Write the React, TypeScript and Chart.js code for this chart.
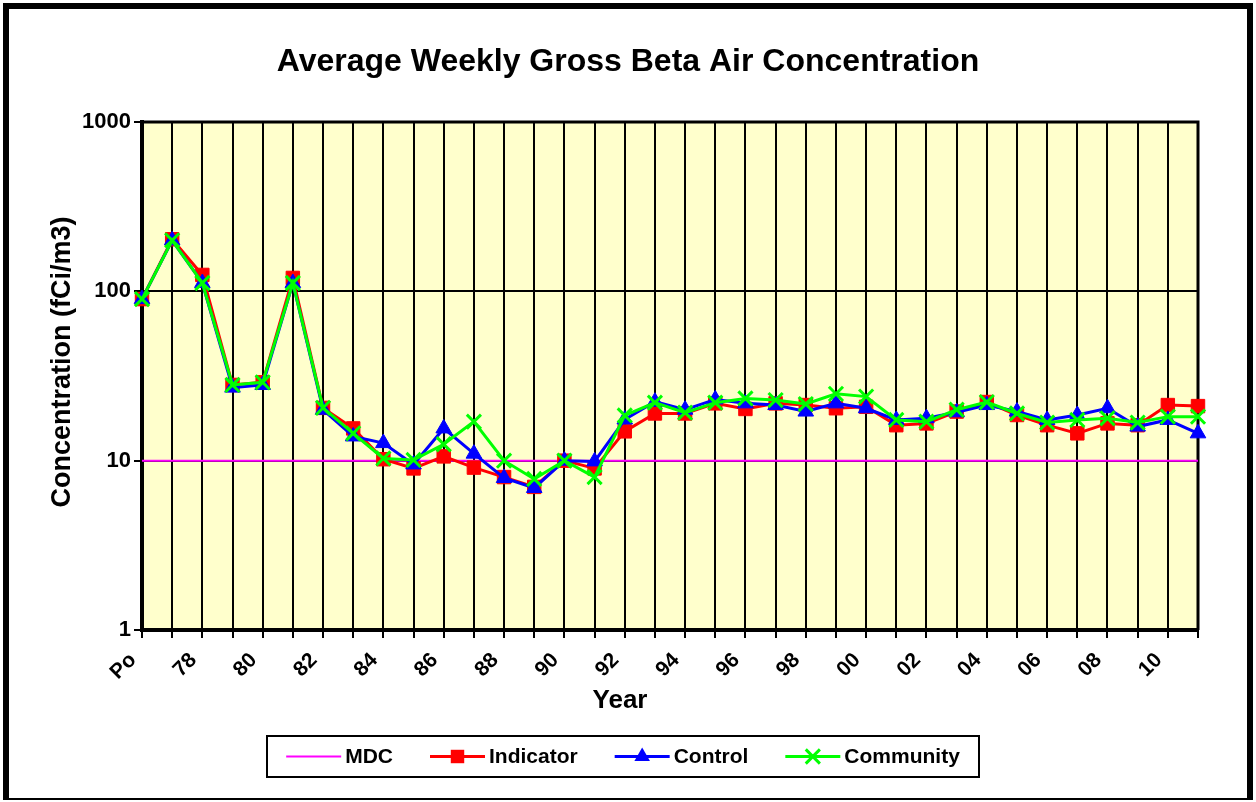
import React, { useEffect, useRef } from 'react';
import { Chart, registerables } from 'chart.js';

Chart.register(...registerables);

const FONT = '"Liberation Sans", Arial, Helvetica, sans-serif';

const years = [
  'Po', '77', '78', '79', '80', '81', '82', '83', '84', '85', '86', '87',
  '88', '89', '90', '91', '92', '93', '94', '95', '96', '97', '98', '99',
  '00', '01', '02', '03', '04', '05', '06', '07', '08', '09', '10', '11',
];

const mdc = [
  10, 10, 10, 10, 10, 10, 10, 10, 10, 10, 10, 10,
  10, 10, 10, 10, 10, 10, 10, 10, 10, 10, 10, 10,
  10, 10, 10, 10, 10, 10, 10, 10, 10, 10, 10, 10,
];

const indicator = [
  90, 203, 125, 28, 29, 120, 20.5, 15.5, 10.2, 9.0, 10.6, 9.1,
  8.0, 7.0, 10.0, 9.0, 14.9, 19.0, 19.0, 21.8, 20.2, 21.8, 21.3, 20.4,
  20.8, 16.2, 16.6, 19.5, 22.2, 18.6, 16.2, 14.5, 16.6, 16.2, 21.3, 21.0,
];

const control = [
  90, 200, 112, 27, 28, 112, 20, 13.9, 12.7, 9.5, 15.5, 11.0,
  7.9, 6.9, 10.0, 9.9, 17.5, 22.3, 20.0, 23.0, 21.8, 21.3, 19.5, 21.8,
  20.4, 17.4, 17.8, 19.3, 21.3, 19.5, 17.4, 18.6, 20.4, 15.9, 17.4, 14.5,
];

const community = [
  90, 200, 112, 28, 29, 112, 20.5, 14.5, 10.3, 10.1, 12.5, 17.0,
  10.0, 7.8, 10.0, 8.0, 18.5, 22.0, 19.2, 22.0, 23.3, 22.8, 21.6, 24.8,
  23.9, 17.4, 17.0, 20.0, 22.2, 19.0, 16.8, 17.4, 17.8, 16.8, 18.2, 18.2,
];

const yTicks = [1, 10, 100, 1000];

const titleText = 'Average Weekly Gross Beta Air Concentration';
const yTitle = 'Concentration (fCi/m3)';
const xTitle = 'Year';

function drawMarker(ctx: CanvasRenderingContext2D, style: string, x: number, y: number, r: number, color: string) {
  ctx.save();
  ctx.fillStyle = color;
  ctx.strokeStyle = color;
  if (style === 'rect') {
    const s = Math.SQRT1_2 * r;
    ctx.fillRect(x - s, y - s, 2 * s, 2 * s);
  } else if (style === 'triangle') {
    ctx.beginPath();
    let rad = 0;
    ctx.moveTo(x + Math.sin(rad) * r, y - Math.cos(rad) * r);
    rad += (2 * Math.PI) / 3;
    ctx.lineTo(x + Math.sin(rad) * r, y - Math.cos(rad) * r);
    rad += (2 * Math.PI) / 3;
    ctx.lineTo(x + Math.sin(rad) * r, y - Math.cos(rad) * r);
    ctx.closePath();
    ctx.fill();
  } else if (style === 'crossRot') {
    const s = Math.SQRT1_2 * r;
    ctx.lineWidth = 3;
    ctx.beginPath();
    ctx.moveTo(x - s, y - s);
    ctx.lineTo(x + s, y + s);
    ctx.moveTo(x - s, y + s);
    ctx.lineTo(x + s, y - s);
    ctx.stroke();
  }
  ctx.restore();
}

const decor = {
  id: 'decor',
  beforeDraw(chart: any) {
    const { ctx, chartArea: a, width, height } = chart;
    ctx.save();
    ctx.fillStyle = '#ffffff';
    ctx.fillRect(0, 0, width, height);
    ctx.fillStyle = '#FFFFCC';
    ctx.fillRect(a.left, a.top, a.right - a.left, a.bottom - a.top);
    ctx.restore();
  },
  beforeDatasetsDraw(chart: any) {
    const { ctx, chartArea: a } = chart;
    ctx.save();
    ctx.strokeStyle = '#000';
    ctx.lineWidth = 3;
    ctx.beginPath();
    ctx.moveTo(a.left, a.top);
    ctx.lineTo(a.right, a.top);
    ctx.lineTo(a.right, a.bottom);
    ctx.stroke();
    ctx.restore();
  },
  afterDraw(chart: any) {
    const { ctx } = chart;
    ctx.save();
    ctx.fillStyle = '#000';
    ctx.textAlign = 'center';
    ctx.textBaseline = 'middle';
    ctx.font = `bold 32px ${FONT}`;
    ctx.fillText(titleText, 628, 62);
    ctx.font = `bold 26px ${FONT}`;
    ctx.fillText(xTitle, 620, 701);
    ctx.save();
    ctx.translate(63, 362);
    ctx.rotate(-Math.PI / 2);
    ctx.font = `bold 27px ${FONT}`;
    ctx.fillText(yTitle, 0, 0);
    ctx.restore();

    // legend
    const bx = 267, by = 736, bw = 712, bh = 41;
    ctx.fillStyle = '#fff';
    ctx.fillRect(bx, by, bw, bh);
    ctx.strokeStyle = '#000';
    ctx.lineWidth = 2;
    ctx.strokeRect(bx, by, bw, bh);
    ctx.font = `bold 21px ${FONT}`;
    const ds = chart.data.datasets;
    const lineLen = 55, gapLT = 4, gapItem = 37;
    const widths = ds.map((d: any) => ctx.measureText(d.label).width);
    let total = 0;
    widths.forEach((w: number) => { total += lineLen + gapLT + w; });
    total += gapItem * (ds.length - 1);
    let x = 623 - total / 2;
    const cy = by + bh / 2;
    ds.forEach((d: any, i: number) => {
      ctx.strokeStyle = d.borderColor;
      ctx.lineWidth = d.borderWidth;
      ctx.beginPath();
      ctx.moveTo(x, cy);
      ctx.lineTo(x + lineLen, cy);
      ctx.stroke();
      if (d.pointRadius > 0) {
        drawMarker(ctx, d.pointStyle, x + lineLen / 2, cy, d.pointRadius, d.borderColor);
      }
      ctx.fillStyle = '#000';
      ctx.textAlign = 'left';
      ctx.fillText(d.label, x + lineLen + gapLT, cy + 1);
      x += lineLen + gapLT + widths[i] + gapItem;
    });

    // outer frame
    ctx.fillStyle = '#000';
    ctx.fillRect(3, 3, 6, 796);
    ctx.fillRect(3, 3, 1250, 6);
    ctx.fillRect(1247, 3, 6, 797);
    ctx.fillRect(3, 798, 1250, 2);
    ctx.restore();
  },
};

export default function App() {
  const ref = useRef<HTMLCanvasElement | null>(null);

  useEffect(() => {
    if (!ref.current) return;
    const chart = new Chart(ref.current, {
      type: 'line',
      data: {
        labels: years,
        datasets: [
          {
            label: 'MDC',
            data: mdc,
            borderColor: '#FF00FF',
            backgroundColor: '#FF00FF',
            borderWidth: 2,
            pointRadius: 0,
            tension: 0,
            order: 4,
          },
          {
            label: 'Indicator',
            data: indicator,
            borderColor: '#FF0000',
            backgroundColor: '#FF0000',
            borderWidth: 3,
            pointStyle: 'rect',
            pointRadius: 9.5,
            pointBorderWidth: 1,
            tension: 0,
            order: 3,
          },
          {
            label: 'Control',
            data: control,
            borderColor: '#0000FF',
            backgroundColor: '#0000FF',
            borderWidth: 3,
            pointStyle: 'triangle',
            pointRadius: 9,
            pointBorderWidth: 1,
            tension: 0,
            order: 2,
          },
          {
            label: 'Community',
            data: community,
            borderColor: '#00FF00',
            backgroundColor: '#00FF00',
            borderWidth: 3,
            pointStyle: 'crossRot',
            pointRadius: 10,
            pointBorderWidth: 3,
            tension: 0,
            order: 1,
          },
        ] as any,
      },
      options: {
        animation: false,
        responsive: false,
        devicePixelRatio: 1,
        events: [],
        clip: false as any,
        layout: { padding: { top: 122, right: 58, bottom: 0, left: 0 } },
        plugins: {
          legend: { display: false },
          title: { display: false },
          tooltip: { enabled: false },
        },
        scales: {
          x: {
            type: 'category',
            offset: false,
            afterFit(scale: any) { scale.height = 172; },
            grid: {
              color: '#000',
              lineWidth: 2,
              tickLength: 8,
              drawOnChartArea: true,
              offset: false,
            },
            border: { display: true, color: '#000', width: 4 },
            ticks: {
              autoSkip: false,
              minRotation: 45,
              maxRotation: 45,
              padding: 10,
              labelOffset: -9,
              color: '#000',
              font: { family: FONT, size: 21, weight: 'bold' },
              callback: (_v: any, i: number) => (i % 2 === 0 ? years[i] : ''),
            },
          },
          y: {
            type: 'logarithmic',
            min: 1,
            max: 1000,
            afterFit(scale: any) { scale.width = 142; },
            afterBuildTicks(scale: any) { scale.ticks = yTicks.map((v) => ({ value: v })); },
            grid: { color: '#000', lineWidth: 2, tickLength: 8 },
            border: { display: true, color: '#000', width: 4 },
            ticks: {
              padding: 3,
              color: '#000',
              font: { family: FONT, size: 22, weight: 'bold' },
              callback: (v: any) => String(v),
            },
          },
        } as any,
      },
      plugins: [decor],
    });
    return () => chart.destroy();
  }, []);

  return (
    <div style={{ position: 'absolute', left: 0, top: 0, width: 1256, height: 802 }}>
      <canvas ref={ref} width={1256} height={802} style={{ display: 'block' }} />
    </div>
  );
}
